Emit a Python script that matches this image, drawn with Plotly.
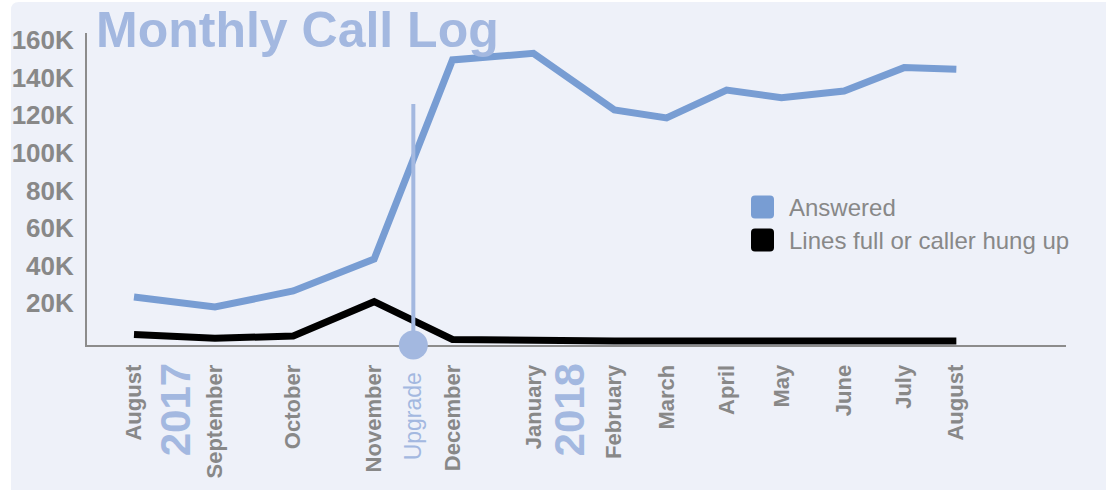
import plotly.graph_objects as go

# ---------------- data ----------------
dates = ["2017-08-01", "2017-09-01", "2017-10-01", "2017-11-01", "2017-12-01",
         "2018-01-01", "2018-02-01", "2018-02-21", "2018-03-16", "2018-04-06",
         "2018-04-30", "2018-05-23", "2018-06-12"]
month_labels = ["August", "September", "October", "November", "December",
                "January", "February", "March", "April", "May", "June", "July", "August"]
answered = [23400, 18100, 26600, 43600, 149400, 152900, 122800, 118600,
            133400, 129300, 132900, 145300, 144400]
hung_up = [3500, 1400, 2700, 20900, 800, 0, 0, 0, 0, 0, 0, 0, 0]
y_ticks = [20000, 40000, 60000, 80000, 100000, 120000, 140000, 160000]
y_tick_labels = ["20K", "40K", "60K", "80K", "100K", "120K", "140K", "160K"]
upgrade_date = "2017-11-16"
upgrade_top = 126000
years = ["2017", "2018"]
year_dates = ["2017-08-17", "2018-01-15"]
series_names = ["Answered", "Lines full or caller hung up"]

# ---------------- style ----------------
FONT = "Liberation Sans, Arial, Helvetica, sans-serif"
BLUE = "#789dd3"
LIGHT = "#a3b8e0"
GRAY = "#888888"
AXIS = "#8c8c8c"
BG = "#eef1f9"

W, H = 1106, 490
L, R, T, B = 87, 1066, 33, 345
pw, ph = R - L, B - T
Y_MIN, Y_MAX = -2130, 163700


def px(x):
    return (x - L) / pw


def py(y):
    return (B - y) / ph


fig = go.Figure()
fig.add_trace(go.Scatter(x=dates, y=answered, mode="lines", name=series_names[0],
                         line=dict(color=BLUE, width=7), showlegend=False))
fig.add_trace(go.Scatter(x=dates, y=hung_up, mode="lines", name=series_names[1],
                         line=dict(color="#000000", width=7), showlegend=False))

shapes = []
# rounded background card
x0, x1, y0, y1 = px(11), px(W), py(2), py(H)
rx, ry = 8 / pw, 8 / ph
shapes.append(dict(type="path", xref="paper", yref="paper", layer="below",
                   path=f"M {x0},{y1} L {x0},{y0 - ry} Q {x0},{y0} {x0 + rx},{y0} "
                        f"L {x1},{y0} L {x1},{y1} Z",
                   fillcolor=BG, line=dict(width=0)))
# upgrade marker line
shapes.append(dict(type="line", xref="x", yref="y", x0=upgrade_date, x1=upgrade_date,
                   y0=Y_MIN, y1=upgrade_top, line=dict(color=LIGHT, width=4), layer="above"))
shapes.append(dict(type="circle", xref="x", yref="paper", xsizemode="pixel", ysizemode="pixel",
                   xanchor=upgrade_date, yanchor=0, x0=-14.5, x1=14.5, y0=-14.5, y1=14.5,
                   fillcolor=LIGHT, line=dict(width=0), layer="above"))

# custom legend squares
leg_colors = [BLUE, "#000000"]
leg_centers = [207, 240]
annotations = []
for c, yc, name in zip(leg_colors, leg_centers, series_names):
    a, b = px(751), px(774)
    t, btm = py(yc - 11.5), py(yc + 11.5)
    rxx, ryy = 4 / pw, 4 / ph
    path = (f"M {a + rxx},{t} L {b - rxx},{t} Q {b},{t} {b},{t - ryy} "
            f"L {b},{btm + ryy} Q {b},{btm} {b - rxx},{btm} "
            f"L {a + rxx},{btm} Q {a},{btm} {a},{btm + ryy} "
            f"L {a},{t - ryy} Q {a},{t} {a + rxx},{t} Z")
    shapes.append(dict(type="path", xref="paper", yref="paper", path=path,
                       fillcolor=c, line=dict(width=0)))
    annotations.append(dict(text=name, xref="paper", yref="paper", x=px(787), y=py(yc),
                            xanchor="left", yanchor="middle", showarrow=False,
                            font=dict(family=FONT, size=24, color=GRAY)))

for yr, d in zip(years, year_dates):
    annotations.append(dict(text=yr, xref="x", yref="paper", x=d, y=py(361),
                            xanchor="center", yanchor="top", textangle=-90, showarrow=False,
                            font=dict(family=FONT, size=42, color=LIGHT, weight="bold")))
annotations.append(dict(text="Upgrade", xref="x", yref="paper", x=upgrade_date, y=py(370),
                        xanchor="center", yanchor="top", textangle=-90, showarrow=False,
                        font=dict(family=FONT, size=23, color=LIGHT)))

fig.update_layout(
    width=W, height=H, autosize=False,
    margin=dict(l=L, r=W - R, t=T, b=H - B, pad=0, autoexpand=False),
    paper_bgcolor="#ffffff", plot_bgcolor="rgba(0,0,0,0)",
    font=dict(family=FONT, color=GRAY),
    title=dict(text="Monthly Call Log", x=px(96), xref="paper", xanchor="left",
               y=1 - 29 / H, yref="container", yanchor="middle", automargin=False,
               font=dict(family=FONT, size=50, color=LIGHT, weight="bold")),
    shapes=shapes, annotations=annotations,
    showlegend=False,
)
fig.update_xaxes(type="date", range=["2017-07-14", "2018-07-24"],
                 tickvals=dates, ticktext=month_labels, tickangle=-90, automargin=False,
                 tickfont=dict(family=FONT, size=22, color=GRAY, weight="bold"),
                 showgrid=False, zeroline=False, showline=True, linecolor=AXIS, linewidth=2,
                 ticks="", ticklabelstandoff=9)
fig.update_yaxes(range=[Y_MIN, Y_MAX], tickvals=y_ticks, ticktext=y_tick_labels,
                 automargin=False,
                 tickfont=dict(family=FONT, size=26, color=GRAY, weight="bold"),
                 showgrid=False, zeroline=False, showline=True, linecolor=AXIS, linewidth=2,
                 ticks="", ticklabelstandoff=6)

fig.write_html("out.html", config={"displayModeBar": False},
               post_script="document.body.style.margin='0';document.body.style.overflow='hidden';")
